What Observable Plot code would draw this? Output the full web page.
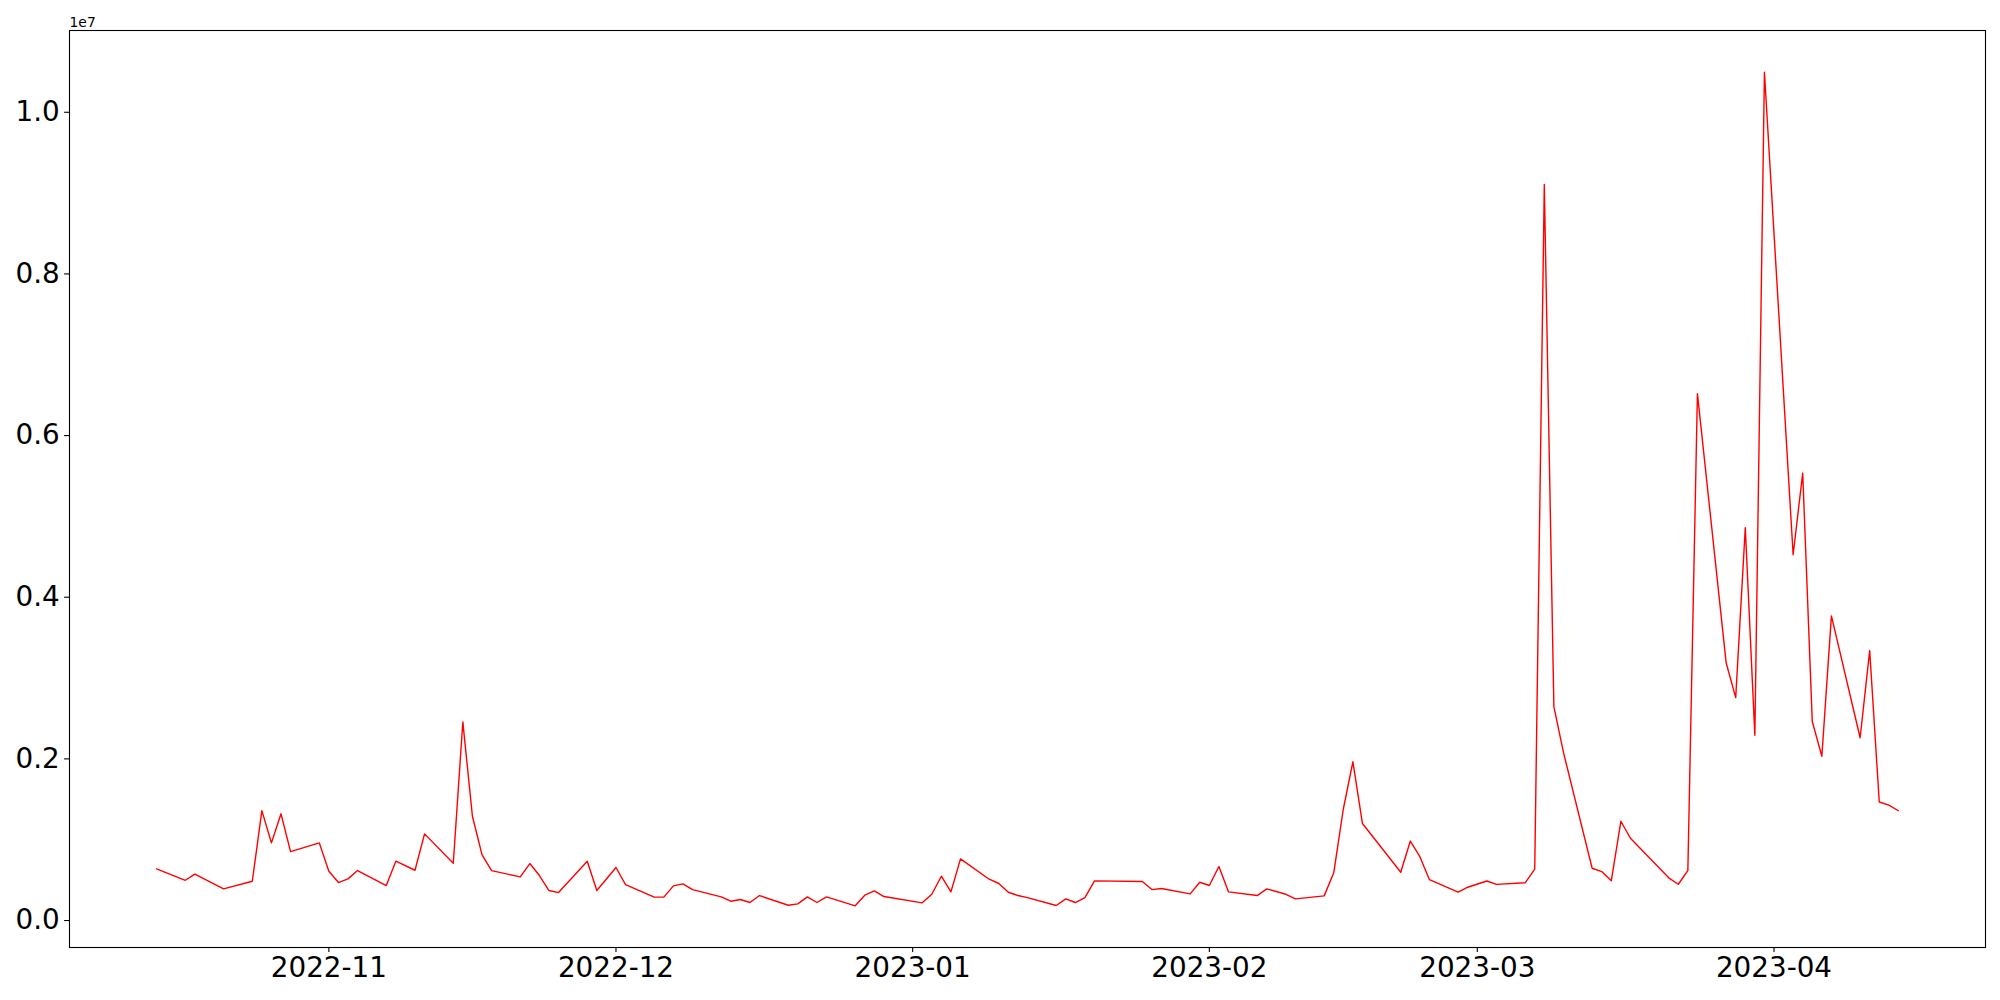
<!DOCTYPE html>
<html>
<head>
<meta charset="utf-8">
<script src="https://cdn.jsdelivr.net/npm/d3@7"></script>
<script src="https://cdn.jsdelivr.net/npm/@observablehq/plot@0.6"></script>
<style>
  html, body { margin: 0; padding: 0; background: white; }
</style>
</head>
<body>
<div id="chart"></div>
<script>
const dates = [
  "2022-10-14","2022-10-17","2022-10-18","2022-10-21","2022-10-24","2022-10-25","2022-10-26","2022-10-27","2022-10-28","2022-10-31",
  "2022-11-01","2022-11-02","2022-11-03","2022-11-04","2022-11-07","2022-11-08","2022-11-10","2022-11-11","2022-11-14","2022-11-15",
  "2022-11-16","2022-11-17","2022-11-18","2022-11-21","2022-11-22","2022-11-23","2022-11-24","2022-11-25","2022-11-28","2022-11-29",
  "2022-12-01","2022-12-02","2022-12-05","2022-12-06","2022-12-07","2022-12-08","2022-12-09","2022-12-12","2022-12-13","2022-12-14",
  "2022-12-15","2022-12-16","2022-12-19","2022-12-20","2022-12-21","2022-12-22","2022-12-23","2022-12-26","2022-12-27","2022-12-28",
  "2022-12-29","2023-01-02","2023-01-03","2023-01-04","2023-01-05","2023-01-06","2023-01-09","2023-01-10","2023-01-11","2023-01-12",
  "2023-01-13","2023-01-16","2023-01-17","2023-01-18","2023-01-19","2023-01-20","2023-01-25","2023-01-26","2023-01-27","2023-01-30",
  "2023-01-31","2023-02-01","2023-02-02","2023-02-03","2023-02-06","2023-02-07","2023-02-09","2023-02-10","2023-02-13","2023-02-14",
  "2023-02-15","2023-02-16","2023-02-17","2023-02-21","2023-02-22","2023-02-23","2023-02-24","2023-02-27","2023-02-28","2023-03-02",
  "2023-03-03","2023-03-06","2023-03-07","2023-03-08","2023-03-09","2023-03-10","2023-03-13","2023-03-14","2023-03-15","2023-03-16",
  "2023-03-17","2023-03-21","2023-03-22","2023-03-23","2023-03-24","2023-03-27","2023-03-28","2023-03-29","2023-03-30","2023-03-31",
  "2023-04-03","2023-04-04","2023-04-05","2023-04-06","2023-04-07","2023-04-10","2023-04-11","2023-04-12","2023-04-13","2023-04-14"
];
const values = [
  639000, 498000, 573000, 392000, 486000, 1360000, 961000, 1320000, 853000, 961000,
  610000, 470000, 515000, 618000, 433000, 734000, 622000, 1072000, 709000, 2457000,
  1290000, 816000, 618000, 540000, 705000, 557000, 371000, 346000, 734000, 371000,
  656000, 445000, 289000, 289000, 429000, 454000, 383000, 293000, 239000, 260000,
  223000, 309000, 189000, 206000, 293000, 223000, 293000, 182000, 313000, 367000,
  297000, 219000, 325000, 548000, 355000, 763000, 511000, 458000, 350000, 309000,
  284000, 186000, 268000, 223000, 284000, 491000, 482000, 383000, 396000, 330000,
  474000, 433000, 668000, 355000, 309000, 392000, 325000, 268000, 305000, 590000,
  1380000, 1964000, 1200000, 597000, 983000, 790000, 505000, 352000, 412000, 489000,
  447000, 467000, 635000, 9107000, 2646000, 2080000, 647000, 606000, 491000, 1228000,
  1018000, 528000, 449000, 618000, 6519000, 3190000, 2758000, 4861000, 2292000, 10496000,
  4526000, 5536000, 2463000, 2033000, 3769000, 2261000, 3340000, 1466000, 1427000, 1358000
];
const xTickDates = ["2022-11-01","2022-12-01","2023-01-01","2023-02-01","2023-03-01","2023-04-01"];
const yTickValues = [0, 2000000, 4000000, 6000000, 8000000, 10000000];
const yOffsetLabel = ["1e7"];

const data = dates.map((d, i) => ({date: new Date(d + "T00:00:00Z"), value: values[i]}));

// matplotlib-style 5% auto margins
const tMin = d3.min(data, d => +d.date), tMax = d3.max(data, d => +d.date);
const vMin = d3.min(values), vMax = d3.max(values);
const xDomain = [new Date(tMin - 0.05 * (tMax - tMin)), new Date(tMax + 0.05 * (tMax - tMin))];
const yDomain = [vMin - 0.05 * (vMax - vMin), vMax + 0.05 * (vMax - vMin)];

const chart = Plot.plot({
  width: 2000,
  height: 1000,
  marginLeft: 69,
  marginRight: 15,
  marginTop: 30,
  marginBottom: 53,
  style: {fontFamily: "DejaVu Sans", fontSize: "27.8px", background: "white", color: "black"},
  x: {type: "utc", domain: xDomain},
  y: {domain: yDomain},
  marks: [
    Plot.line(data, {x: "date", y: "value", stroke: "red", strokeWidth: 1.4}),
    Plot.frame({stroke: "black", strokeWidth: 1.1}),
    Plot.axisX({
      ticks: xTickDates.map(d => new Date(d + "T00:00:00Z")),
      tickFormat: d3.utcFormat("%Y-%m"),
      tickSize: 4.9, tickPadding: 4.9, strokeWidth: 1.1,
      fontSize: 27.8, label: null
    }),
    Plot.axisY({
      ticks: yTickValues,
      tickFormat: d => (d / 1e7).toFixed(1),
      tickSize: 4.9, tickPadding: 4.9, strokeWidth: 1.1,
      fontSize: 27.8, label: null
    }),
    Plot.text(yOffsetLabel, {
      frameAnchor: "top-left", text: d => d, textAnchor: "start",
      lineAnchor: "bottom", dy: -4, fontSize: 13.9
    })
  ]
});
document.getElementById("chart").appendChild(chart);
</script>
</body>
</html>
